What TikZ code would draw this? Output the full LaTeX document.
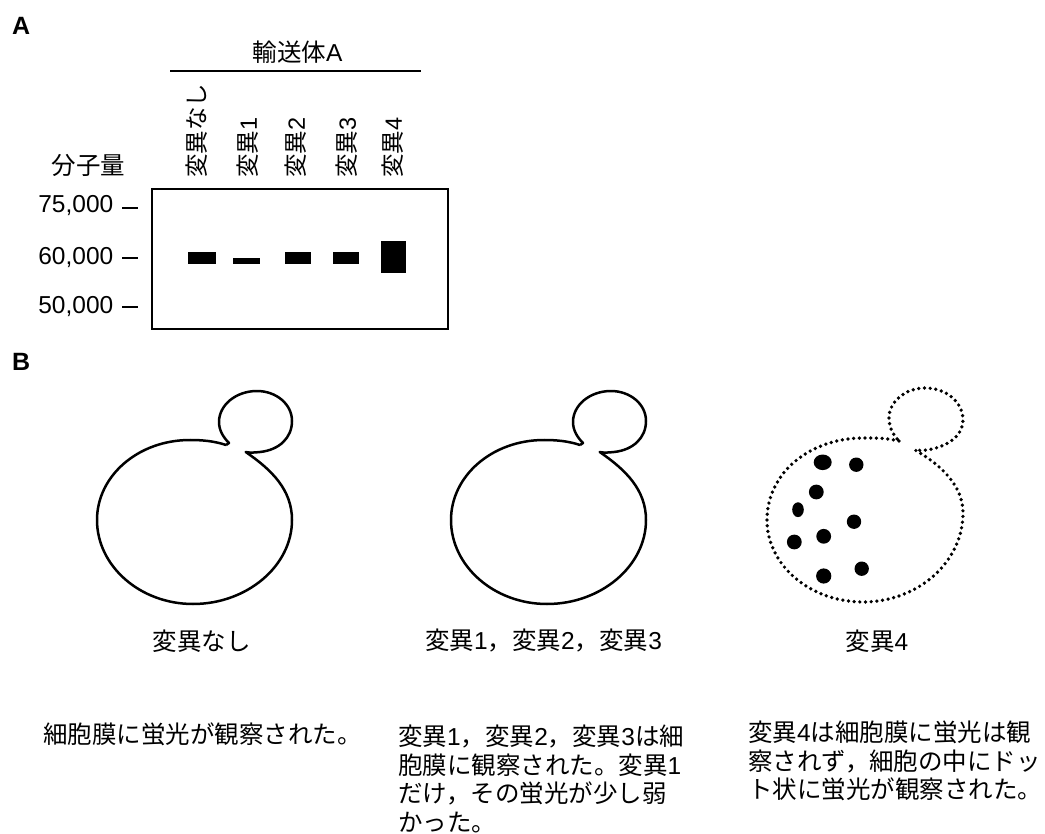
\documentclass[tikz,border=0pt]{standalone}
\usepackage{fontspec}
\setmainfont{Noto Sans CJK JP}
\newfontfamily\lat{Liberation Sans}
\newcommand{\ltn}[1]{{\lat #1}}
\tikzset{
  x=1pt,y=-1pt,
  panel/.style={font=\lat\bfseries\fontsize{25}{25}\selectfont,anchor=west,inner sep=0pt},
  mass/.style={font=\lat\fontsize{24.5}{24.5}\selectfont,anchor=east,inner sep=0pt},
  lane/.style={font=\fontsize{23.5}{23.5}\selectfont,rotate=90,anchor=west,inner sep=0pt},
  heading/.style={font=\fontsize{24.5}{24.5}\selectfont,inner sep=0pt},
  band/.style={fill=black,draw=none},
  tick/.style={line width=2pt},
  caption/.style={font=\fontsize{24.5}{24.5}\selectfont,inner sep=0pt},
  note/.style={font=\fontsize{24.5}{28.5}\selectfont,anchor=north west,align=left,inner sep=0pt},
  membrane/.style={line width=2.5pt,line join=round},
  puncta/.style={line width=3.7pt,line cap=round,dash pattern=on 0pt off 5.7pt},
  vesicle/.style={fill=black,draw=none}
}
% Yeast cell outline: mother cell followed by the bud, open at the neck
\newcommand{\yeastpath}{
  (226,445) .. controls (214,441) and (202,440) .. (190,440)
  .. controls (138,440) and (97,476) .. (97,520)
  .. controls (97,566) and (140,604) .. (193,604)
  .. controls (247,604) and (292,566) .. (292,520)
  .. controls (292,490) and (272,470) .. (245.7,452)
  .. controls (250,453) and (255,452.5) .. (260,452)
  .. controls (279,450) and (292,438) .. (292,421)
  .. controls (292,404) and (276,391) .. (257,391)
  .. controls (236,391) and (219,405) .. (219,422)
  .. controls (219,430) and (223,437) .. (229,443) -- (226,445)
}
\begin{document}
\begin{tikzpicture}
\useasboundingbox (0,0) rectangle (1045,834);
\fill[white] (0,0) rectangle (1045,834);

% Panel A: western blot
\node[panel] (labelA) at (12,26) {A};
\node[heading] (transporter) at (297.5,52) {輸送体\ltn{A}};
\coordinate (ruleL) at (170,71.5);
\coordinate (ruleR) at (421,71.5);
\draw[line width=2pt] (ruleL) -- (ruleR);

\node[lane] (lane0) at (197,178) {変異なし};
\node[lane] (lane1) at (248,178) {変異\ltn{1}};
\node[lane] (lane2) at (296,178) {変異\ltn{2}};
\node[lane] (lane3) at (347,178) {変異\ltn{3}};
\node[lane] (lane4) at (393,178) {変異\ltn{4}};

\node[heading] (mw) at (88.5,165) {分子量};
\node[mass] (m75) at (113.5,205.5) {75,000};
\node[mass] (m60) at (113.5,258) {60,000};
\node[mass] (m50) at (113.5,306.5) {50,000};
\coordinate (t75a) at (122,208); \coordinate (t75b) at (138,208);
\coordinate (t60a) at (122,258); \coordinate (t60b) at (138,258);
\coordinate (t50a) at (122,307); \coordinate (t50b) at (138,307);
\draw[tick] (t75a) -- (t75b);
\draw[tick] (t60a) -- (t60b);
\draw[tick] (t50a) -- (t50b);

\draw[line width=2.5pt] (152,189) rectangle (448,329);
\fill[band] (188,252) rectangle (216,264);
\fill[band] (233,258.5) rectangle (260,264);
\fill[band] (285,252) rectangle (311,264);
\fill[band] (333,252) rectangle (359,264);
\fill[band] (381,241) rectangle (406,273);

% Panel B: fluorescence localisation
\node[panel] (labelB) at (12,362) {B};

\draw[membrane] \yeastpath;
\begin{scope}[xshift=354pt]
  \draw[membrane] \yeastpath;
\end{scope}

\draw[puncta]
  (899,441) .. controls (887,438) and (875,438) .. (863,438)
  .. controls (811,438) and (767,472) .. (767,520)
  .. controls (767,566) and (811,602) .. (863,602)
  .. controls (918,602) and (963,562) .. (963,513)
  .. controls (963,487) and (943,466) .. (915,450)
  .. controls (919,450.5) and (923,450.5) .. (927,450)
  .. controls (947,447) and (963,436) .. (963,420)
  .. controls (963,402) and (946,388) .. (925,388)
  .. controls (905,388) and (889,402) .. (889,418)
  .. controls (889,427) and (893,435) .. (899,441);

\fill[vesicle] (822.7,462.3) ellipse [x radius=9, y radius=7.8];
\fill[vesicle] (856.3,464.7) circle (7.2);
\fill[vesicle] (816.3,492) circle (7.4);
\fill[vesicle] (798,509.7) ellipse [x radius=5.8, y radius=7.4];
\fill[vesicle] (854,521.7) circle (7.2);
\fill[vesicle] (823.7,536.3) circle (7.4);
\fill[vesicle] (794.3,542) circle (7.4);
\fill[vesicle] (823.7,576) circle (7.6);
\fill[vesicle] (861.7,568.7) circle (7.2);

\node[caption] (capA) at (201.5,641) {変異なし};
\node[caption] (capB) at (543.5,641) {変異\ltn{1}，変異\ltn{2}，変異\ltn{3}};
\node[caption] (capC) at (877,641) {変異\ltn{4}};

\node[note] (noteA) at (43,723) {細胞膜に蛍光が観察された。};
\node[note] (noteB) at (398,725) {変異\ltn{1}，変異\ltn{2}，変異\ltn{3}は細\\胞膜に観察された。変異\ltn{1}\\だけ，その蛍光が少し弱\\かった。};
\node[note] (noteC) at (748,721) {変異\ltn{4}は細胞膜に蛍光は観\\察されず，細胞の中にドッ\\ト状に蛍光が観察された。};
\end{tikzpicture}
\end{document}
